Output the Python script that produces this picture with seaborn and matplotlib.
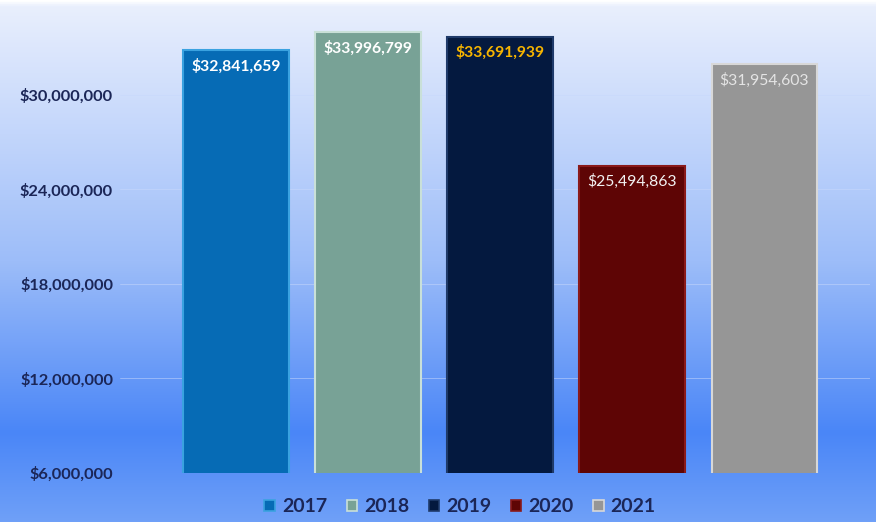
"""
Yearly totals bar chart with a blue gradient backdrop, bar labels inside the bars
and a bottom legend.
"""

import numpy as np
import pandas as pd
import matplotlib.pyplot as plt
import matplotlib.ticker as mticker
from matplotlib.colors import LinearSegmentedColormap
from matplotlib.patches import Patch
import seaborn as sns

sns.set_theme(style="white")
plt.rcParams["font.family"] = ["Lato", "DejaVu Sans"]

# Chart data
YEARS = ["2017", "2018", "2019", "2020", "2021"]
TOTALS = [32841659, 33996799, 33691939, 25494863, 31954603]
BAR_COLORS = ["#066bb5", "#78a296", "#04193f", "#5e0505", "#969696"]
EDGE_COLORS = ["#3aa2e0", "#c9e0d8", "#1f3a6a", "#8a1a1a", "#d8d8d8"]
LABEL_COLORS = ["#ffffff", "#ffffff", "#f7b500", "#f2f2f2", "#e4e4e4"]
LABEL_WEIGHTS = ["bold", "bold", "bold", "normal", "normal"]
Y_TICKS = [6000000, 12000000, 18000000, 24000000, 30000000]

TEXT_DARK = "#1b2657"

fig = plt.figure(figsize=(8.76, 5.22), dpi=100)

# Background gradient spanning the whole figure
bg = fig.add_axes([0, 0, 1, 1], zorder=0)
grad_cmap = LinearSegmentedColormap.from_list(
    "bg", [(0.0, "#6fa0f8"), (0.17, "#4a86f7"), (0.5, "#9dbdf9"), (0.99, "#e9effd"), (1.0, "#ffffff")]
)
bg.imshow(np.linspace(0, 1, 256).reshape(-1, 1), aspect="auto", cmap=grad_cmap,
          origin="lower", extent=[0, 1, 0, 1])
bg.axis("off")

# Main plot area (pixel-based placement: left 120, right 870, bottom y=473, top y=5)
W, H = 876, 522
ax = fig.add_axes([120 / W, (H - 473) / H, (870 - 120) / W, (473 - 5) / H], zorder=1)
ax.patch.set_alpha(0)

df = pd.DataFrame({"year": YEARS, "total": TOTALS})
sns.barplot(data=df, x="year", y="total", hue="year", palette=BAR_COLORS,
            width=0.8, legend=False, ax=ax, saturation=1, zorder=3)

for patch, ec in zip(ax.patches, EDGE_COLORS):
    patch.set_edgecolor(ec)
    patch.set_linewidth(1.5)

ax.set_ylim(6000000, 35700000)
ax.set_xlim(-0.879, 4.80)
ax.set_yticks(Y_TICKS)
ax.yaxis.set_major_formatter(mticker.FuncFormatter(lambda v, _: f"${v:,.0f}"))
ax.tick_params(axis="y", length=0, pad=5, labelsize=11.8, labelcolor=TEXT_DARK)
for lbl in ax.get_yticklabels():
    lbl.set_fontweight("bold")
ax.set_xticks([])
ax.set_xlabel("")
ax.set_ylabel("")
ax.grid(axis="y", color="#c8d8fb", linewidth=0.6, alpha=0.6, zorder=0)
sns.despine(ax=ax, left=True, bottom=True)

# Value labels just inside the top of each bar
for i, (val, col, wt) in enumerate(zip(TOTALS, LABEL_COLORS, LABEL_WEIGHTS)):
    ax.annotate(f"${val:,}", (i, val), xytext=(0, -6), textcoords="offset points",
                ha="center", va="top", fontsize=11.3, color=col, fontweight=wt, zorder=4)

handles = [Patch(facecolor=c, edgecolor=e, linewidth=1.2) for c, e in zip(BAR_COLORS, EDGE_COLORS)]
fig.legend(handles, YEARS, loc="center", bbox_to_anchor=(460 / W, 1 - 507 / H), ncol=5,
           frameon=False, handlelength=0.55, handleheight=0.55, handletextpad=0.35,
           columnspacing=1.0, prop={"size": 14, "weight": "bold"}, labelcolor=TEXT_DARK)

fig.savefig("out.png", dpi=100)
